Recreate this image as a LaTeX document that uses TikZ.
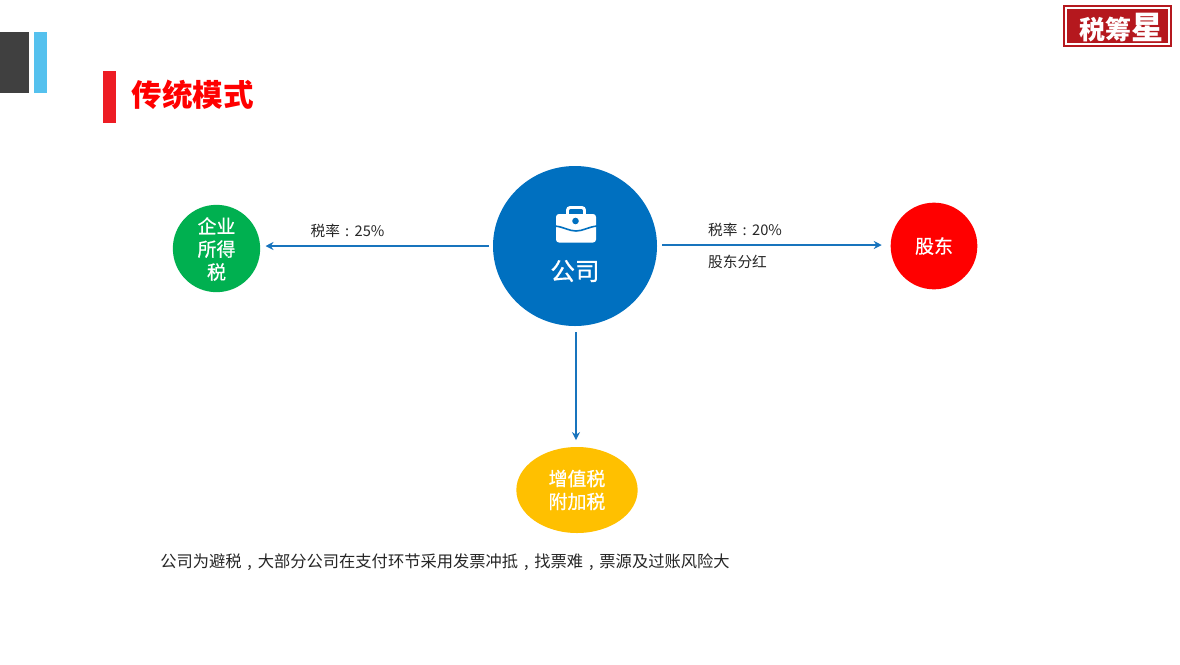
\documentclass[tikz,border=0pt]{standalone}
\usepackage{fontspec}
\setmainfont{Noto Sans CJK SC}
\newfontfamily\emb[RawFeature={embolden=0.6}]{Noto Sans CJK SC}
\newcommand{\cm}{\hbox to 1em{\hss,\hss}}
\newcommand{\cl}{\hbox to 1em{\hss:\hss}}
\usetikzlibrary{shapes.geometric,arrows.meta}
\definecolor{cblue}{HTML}{0070C0}
\definecolor{cgreen}{HTML}{00B050}
\definecolor{cyellow}{HTML}{FFC000}
\definecolor{cred}{HTML}{FF0000}
\definecolor{barred}{HTML}{ED1C24}
\definecolor{logored}{HTML}{B5181E}
\definecolor{skyb}{HTML}{55C1EE}
\definecolor{darkg}{HTML}{404040}
\definecolor{linkb}{HTML}{1874BD}
\tikzset{
  hub/.style={ellipse,inner sep=0pt,text=white,align=center,font=\emb\fontsize{14.2pt}{17.2pt}\selectfont},
  flow/.style={draw=linkb,line width=1pt,-{Stealth[length=6pt,width=6pt]}},
  lbl/.style={inner sep=0pt,text=black!85,font=\fontsize{11pt}{14pt}\selectfont},
}
\begin{document}
\begin{tikzpicture}[x=0.75pt,y=-0.75pt]
\useasboundingbox (0,0) rectangle (1180,664);
\fill[white] (0,0) rectangle (1180,664);
% corner marks
\fill[darkg] (0,32) rectangle (29,93);
\fill[skyb] (34,32) rectangle (47,93);
\fill[barred] (103,71) rectangle (116,123);
\node[anchor=west,inner sep=0pt,text=cred,font=\fontsize{22.9pt}{26pt}\selectfont\bfseries] (title) at (131.5,95) {传统模式};
% logo
\fill[logored] (1063,5) rectangle (1172,47);
\draw[white,line width=0.8pt] (1066,8) rectangle (1169,44);
\node[inner sep=0pt,text=white,font=\fontsize{19.5pt}{24pt}\selectfont\bfseries] (logo) at (1121,28) {税筹{\fontsize{24pt}{24pt}\selectfont 星}};
% nodes
\node[hub,fill=cblue,minimum width=123pt,minimum height=120pt] (co) at (575,246) {};
\node[hub,fill=cgreen,minimum width=65.5pt,minimum height=65.5pt] (tax) at (216.5,248.5) {};
\node[inner sep=0pt,text=white,align=center,font=\emb\fontsize{14.2pt}{17.2pt}\selectfont] (taxtext) at (216.5,249) {企业\\所得\\税};
\node[hub,fill=cred,minimum width=65pt,minimum height=65pt] (sh) at (934,246) {股东};
\node[hub,fill=cyellow,minimum width=91pt,minimum height=64.5pt] (vat) at (577,490) {增值税\\附加税};
\node[inner sep=0pt,text=white,font=\emb\fontsize{18.5pt}{22pt}\selectfont] (colabel) at (575,271) {公司};
% briefcase icon
\fill[white,rounded corners=2.2pt] (556,214) rectangle (596,242.5);
\draw[white,line width=2.2pt,rounded corners=2pt] (567.5,215) -- (567.5,207.5) -- (584.5,207.5) -- (584.5,215);
\draw[cblue,line width=1.2pt] (555,226) .. controls (564,227) and (569,231) .. (576,231) .. controls (583,231) and (588,227) .. (597,226);
\fill[cblue] (575.5,221) circle (3.3);
% connectors
\draw[flow,shorten <=3pt,shorten >=3.8pt] (co.west |- 0,246) -- (tax.east |- 0,246);
\draw[flow,shorten <=3.7pt,shorten >=6.5pt] (co.east |- 0,245) -- (sh.west |- 0,245);
\draw[flow,shorten <=4.5pt,shorten >=5pt] (co.south -| 576,0) -- (vat.north -| 576,0);
% labels
\node[lbl] (l1) at (347.5,231) {税率\cl 25\%};
\node[lbl] (l2) at (745,229.5) {税率\cl 20\%};
\node[lbl] (l3) at (737.5,262) {股东分红};
\node[lbl,anchor=west,font=\fontsize{12.2pt}{15pt}\selectfont] (note) at (160,562) {公司为避税\cm 大部分公司在支付环节采用发票冲抵\cm 找票难\cm 票源及过账风险大};
\end{tikzpicture}
\end{document}
